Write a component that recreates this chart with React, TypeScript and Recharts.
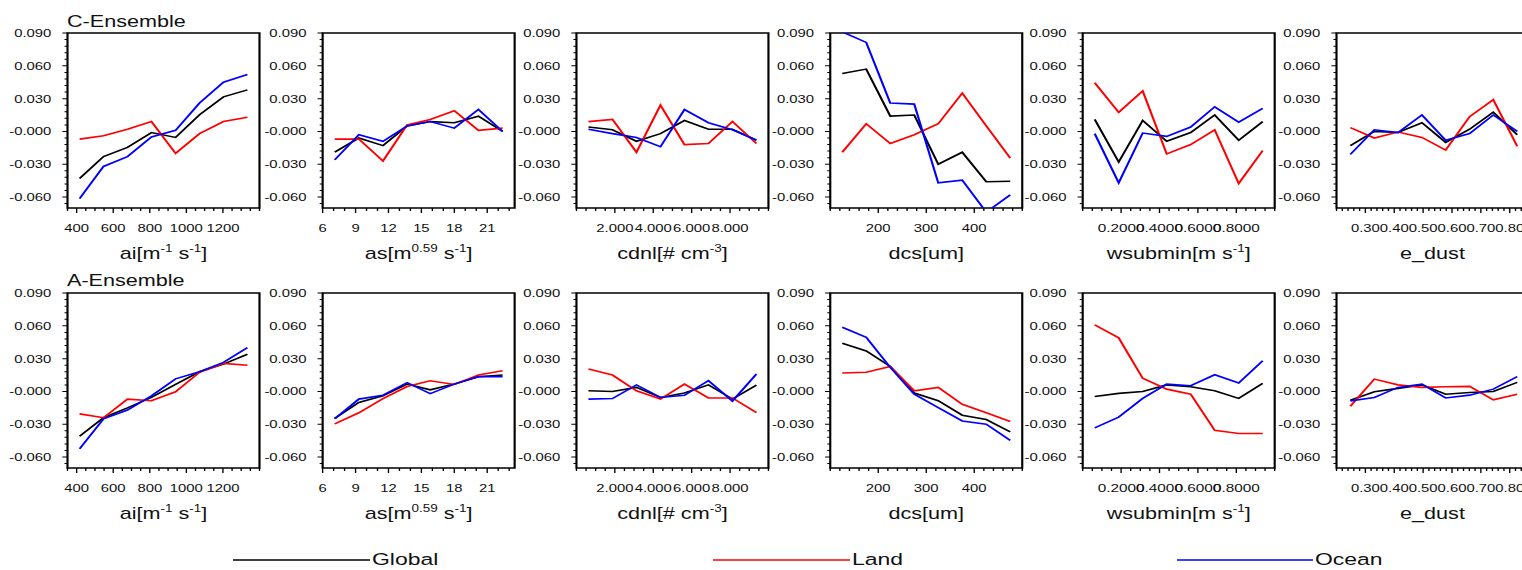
import React from 'react';
import { LineChart, Line, XAxis, YAxis, ReferenceArea, Label } from 'recharts';

// the original figure is stretched horizontally, so everything is drawn narrow and scaled
const S = 1.35;
const FONT = '"Liberation Sans", Arial, Helvetica, sans-serif';

// bin centres of each perturbed parameter
const aiX = [416, 547, 678, 809, 941, 1072, 1203, 1334];
const asX = [7.1, 9.3, 11.5, 13.7, 15.8, 18.0, 20.2, 22.4];
const cdnlX = [0.625, 1.875, 3.125, 4.375, 5.625, 6.875, 8.125, 9.375];
const dcsX = [125, 175, 225, 275, 325, 375, 425, 475];
const wsubX = [0.0625, 0.1875, 0.3125, 0.4375, 0.5625, 0.6875, 0.8125, 0.9375];
const edustX = [0.248, 0.331, 0.413, 0.496, 0.578, 0.661, 0.743, 0.826];

// C-Ensemble
const cAiGlobal = [-0.043, -0.023, -0.0146, -0.001, -0.0055, 0.0153, 0.0316, 0.038];
const cAiLand = [-0.007, -0.004, 0.002, 0.009, -0.02, -0.002, 0.009, 0.013];
const cAiOcean = [-0.0615, -0.032, -0.023, -0.005, 0.001, 0.026, 0.045, 0.052];
const cAsGlobal = [-0.019, -0.006, -0.013, 0.005, 0.009, 0.008, 0.014, 0.0];
const cAsLand = [-0.007, -0.007, -0.027, 0.006, 0.011, 0.019, 0.001, 0.003];
const cAsOcean = [-0.026, -0.003, -0.009, 0.005, 0.009, 0.003, 0.02, 0.0];
const cCdnlGlobal = [0.004, 0.0015, -0.009, -0.002, 0.01, 0.002, 0.002, -0.008];
const cCdnlLand = [0.009, 0.011, -0.019, 0.024, -0.012, -0.011, 0.009, -0.011];
const cCdnlOcean = [0.002, -0.002, -0.0055, -0.014, 0.02, 0.008, 0.0015, -0.008];
const cDcsGlobal = [0.053, 0.057, 0.014, 0.015, -0.03, -0.019, -0.046, -0.0455];
const cDcsLand = [-0.019, 0.007, -0.011, -0.003, 0.007, 0.035, 0.005, -0.0245];
const cDcsOcean = [0.091, 0.0814, 0.026, 0.025, -0.047, -0.0445, -0.0738, -0.058];
const cWsubGlobal = [0.011, -0.028, 0.01, -0.009, -0.001, 0.015, -0.008, 0.009];
const cWsubLand = [0.0445, 0.0175, 0.037, -0.0205, -0.012, 0.0015, -0.0475, -0.0175];
const cWsubOcean = [-0.002, -0.047, -0.0015, -0.0045, 0.004, 0.0225, 0.0085, 0.021];
const cDustGlobal = [-0.013, 0.0, -0.001, 0.008, -0.01, 0.002, 0.0175, -0.003];
const cDustLand = [0.0035, -0.006, -0.0005, -0.0055, -0.017, 0.0135, 0.029, -0.0135];
const cDustOcean = [-0.021, 0.0015, -0.001, 0.015, -0.008, -0.002, 0.015, 0.0];

// A-Ensemble
const aAiGlobal = [-0.041, -0.024, -0.015, -0.0055, 0.0065, 0.018, 0.025, 0.034];
const aAiLand = [-0.0205, -0.024, -0.007, -0.0085, -0.0003, 0.0175, 0.0256, 0.024];
const aAiOcean = [-0.0526, -0.025, -0.017, -0.004, 0.0115, 0.018, 0.0265, 0.04];
const aAsGlobal = [-0.0247, -0.01, -0.004, 0.0067, 0.0015, 0.0067, 0.0135, 0.015];
const aAsLand = [-0.0297, -0.0195, -0.0065, 0.0045, 0.0098, 0.0064, 0.015, 0.019];
const aAsOcean = [-0.025, -0.007, -0.0035, 0.008, -0.002, 0.0067, 0.0136, 0.0135];
const aCdnlGlobal = [0.0006, 0.0, 0.0037, -0.0055, -0.0015, 0.006, -0.007, 0.0058];
const aCdnlLand = [0.0206, 0.015, 0.0006, -0.007, 0.0067, -0.006, -0.006, -0.0194];
const aCdnlOcean = [-0.007, -0.0065, 0.006, -0.0055, -0.0035, 0.0098, -0.0088, 0.016];
const aDcsGlobal = [0.044, 0.037, 0.0228, -0.0015, -0.0085, -0.0217, -0.0257, -0.037];
const aDcsLand = [0.0169, 0.0175, 0.0228, 0.0006, 0.0037, -0.0117, -0.0194, -0.0275];
const aDcsOcean = [0.0587, 0.0495, 0.022, -0.0025, -0.0147, -0.027, -0.03, -0.0447];
const aWsubGlobal = [-0.0046, -0.0018, 0.0, 0.006, 0.0043, 0.0006, -0.0064, 0.0074];
const aWsubLand = [0.0609, 0.049, 0.0121, 0.0021, -0.0025, -0.0355, -0.0385, -0.0385];
const aWsubOcean = [-0.0333, -0.0235, -0.0064, 0.0067, 0.0052, 0.0153, 0.0077, 0.028];
const aDustGlobal = [-0.008, -0.0003, 0.0028, 0.006, -0.0025, -0.001, 0.0, 0.0083];
const aDustLand = [-0.0135, 0.0113, 0.006, 0.0037, 0.0043, 0.0046, -0.0077, -0.0025];
const aDustOcean = [-0.0086, -0.0055, 0.0037, 0.0067, -0.006, -0.0034, 0.0021, 0.0135];

const yMajor = [-0.06, -0.03, 0, 0.03, 0.06, 0.09];
const yLabels = ['-0.060', '-0.030', '-0.000', '0.030', '0.060', '0.090'];
const Y_DOMAIN: [number, number] = [-0.07, 0.09];

const rowNames = ['C-Ensemble', 'A-Ensemble'];
const seriesNames = ['Global', 'Land', 'Ocean'];
const seriesColors = ['#000000', '#ff0000', '#0000ff'];

type TitlePart = [string, boolean];

const PANELS = [
  { x: aiX, domain: [350, 1400], major: [400, 600, 800, 1000, 1200], labels: ['400', '600', '800', '1000', '1200'], step: 50, fs: 11,
    title: [['ai[m', false], ['-1', true], [' s', false], ['-1', true], [']', false]] as TitlePart[] },
  { x: asX, domain: [6, 23.5], major: [6, 9, 12, 15, 18, 21], labels: ['6', '9', '12', '15', '18', '21'], step: 1, fs: 11,
    title: [['as[m', false], ['0.59', true], [' s', false], ['-1', true], [']', false]] as TitlePart[] },
  { x: cdnlX, domain: [0, 10], major: [2, 4, 6, 8], labels: ['2.000', '4.000', '6.000', '8.000'], step: 0.5, fs: 11,
    title: [['cdnl[# cm', false], ['-3', true], [']', false]] as TitlePart[] },
  { x: dcsX, domain: [100, 500], major: [200, 300, 400], labels: ['200', '300', '400'], step: 20, fs: 11,
    title: [['dcs[um]', false]] as TitlePart[] },
  { x: wsubX, domain: [0, 1], major: [0.2, 0.4, 0.6, 0.8], labels: ['0.2000', '0.4000', '0.6000', '0.8000'], step: 0.05, fs: 11.35,
    title: [['wsubmin[m s', false], ['-1', true], [']', false]] as TitlePart[] },
  { x: edustX, domain: [0.2, 0.865], major: [0.3, 0.4, 0.5, 0.6, 0.7, 0.8], labels: ['0.30', '0.40', '0.50', '0.60', '0.70', '0.80'], step: 0.02, fs: 11,
    title: [['e_dust', false]] as TitlePart[] },
];

const SERIES = [
  [
    [cAiGlobal, cAiLand, cAiOcean],
    [cAsGlobal, cAsLand, cAsOcean],
    [cCdnlGlobal, cCdnlLand, cCdnlOcean],
    [cDcsGlobal, cDcsLand, cDcsOcean],
    [cWsubGlobal, cWsubLand, cWsubOcean],
    [cDustGlobal, cDustLand, cDustOcean],
  ],
  [
    [aAiGlobal, aAiLand, aAiOcean],
    [aAsGlobal, aAsLand, aAsOcean],
    [aCdnlGlobal, aCdnlLand, aCdnlOcean],
    [aDcsGlobal, aDcsLand, aDcsOcean],
    [aWsubGlobal, aWsubLand, aWsubOcean],
    [aDustGlobal, aDustLand, aDustOcean],
  ],
];

// layout, page pixels
const plotLeft = [68, 322, 576, 830, 1083, 1337];
const plotTop = [33.3, 292.7];
const PLOT_W = 192 / S;
const PLOT_H = 175;
const Y_AXIS_W = 50;
const CHART_W = Y_AXIS_W + PLOT_W + 6;
const M_TOP = 8;
const X_AXIS_H = 60;

const tickList = (lo: number, hi: number, step: number) => {
  const out: number[] = [];
  for (let v = lo; v <= hi + step / 100; v += step) out.push(+v.toFixed(6));
  return out;
};
const yTicks = tickList(-0.066, 0.09, 0.006);

const YTick = (props: any) => {
  const { x, y, payload } = props;
  const idx = yMajor.findIndex((m) => Math.abs(m - payload.value) < 1e-6);
  const len = idx >= 0 ? 3.8 : 2.2;
  return (
    <g>
      <line x1={x} x2={x - len} y1={y} y2={y} stroke="#000" strokeWidth={1} />
      {idx >= 0 && (
        <text x={x - 12} y={y} dy={3.9} textAnchor="end" fontSize={11} fill="#111" fontFamily={FONT}>
          {yLabels[idx]}
        </text>
      )}
    </g>
  );
};

const XTick = (props: any) => {
  const { x, y, payload, cfg } = props;
  const idx = cfg.major.findIndex((m: number) => Math.abs(m - payload.value) < cfg.step / 10);
  const len = idx >= 0 ? 5 : 3;
  return (
    <g>
      <line x1={x} x2={x} y1={y} y2={y + len} stroke="#000" strokeWidth={1} />
      {idx >= 0 && (
        <text x={x} y={y + 24.5} textAnchor="middle" fontSize={cfg.fs} fill="#111" fontFamily={FONT}>
          {cfg.labels[idx]}
        </text>
      )}
    </g>
  );
};

const AxisTitle = (parts: TitlePart[]) => (props: any) => {
  const vb = props.viewBox || {};
  const cx = vb.x + vb.width / 2;
  const base = vb.y + 51;
  return (
    <text x={cx} y={base} textAnchor="middle" fontSize={16} fill="#111" fontFamily={FONT}>
      {parts.map(([t, sup], i) => {
        const prevSup = i > 0 && parts[i - 1][1];
        const dy = sup ? -7 : prevSup ? 7 : 0;
        return (
          <tspan key={i} dy={dy} fontSize={sup ? 10 : 16}>
            {t}
          </tspan>
        );
      })}
    </text>
  );
};

const Panel = ({ row, col }: { row: number; col: number }) => {
  const cfg = PANELS[col];
  const [g, l, o] = SERIES[row][col];
  const data = cfg.x.map((xv, i) => ({ x: xv, global: g[i], land: l[i], ocean: o[i] }));
  const xTicks = tickList(cfg.domain[0], cfg.domain[1], cfg.step);
  const keys = ['global', 'land', 'ocean'];
  return (
    <div
      style={{
        position: 'absolute',
        left: plotLeft[col] / S - Y_AXIS_W,
        top: plotTop[row] - M_TOP,
      }}
    >
      <LineChart
        width={CHART_W}
        height={M_TOP + PLOT_H + X_AXIS_H}
        data={data}
        margin={{ top: M_TOP, right: CHART_W - Y_AXIS_W - PLOT_W, bottom: 0, left: 0 }}
      >
        <XAxis
          type="number"
          dataKey="x"
          domain={cfg.domain}
          allowDataOverflow
          ticks={xTicks}
          interval={0}
          tickSize={0}
          tickMargin={0}
          tickLine={false}
          axisLine={false}
          height={X_AXIS_H}
          tick={(p: any) => <XTick {...p} cfg={cfg} />}
        >
          <Label content={AxisTitle(cfg.title)} />
        </XAxis>
        <YAxis
          type="number"
          domain={Y_DOMAIN}
          allowDataOverflow
          ticks={yTicks}
          interval={0}
          tickSize={0}
          tickMargin={0}
          tickLine={false}
          axisLine={false}
          width={Y_AXIS_W}
          tick={(p: any) => <YTick {...p} />}
        />
        {keys.map((k, i) => (
          <Line
            key={k}
            type="linear"
            dataKey={k}
            name={seriesNames[i]}
            stroke={seriesColors[i]}
            strokeWidth={1.6}
            dot={false}
            isAnimationActive={false}
          />
        ))}
        <ReferenceArea
          x1={cfg.domain[0]}
          x2={cfg.domain[1]}
          y1={Y_DOMAIN[0]}
          y2={Y_DOMAIN[1]}
          fill="none"
          fillOpacity={0}
          stroke="#000"
          strokeWidth={1.6}
        />
      </LineChart>
    </div>
  );
};

// legend, page pixels
const legendLines = [
  [233, 370],
  [713, 850],
  [1177, 1313],
];

export default function App() {
  return (
    <div
      style={{
        position: 'absolute',
        left: 0,
        top: 0,
        width: 1522,
        height: 570,
        overflow: 'hidden',
        background: '#fff',
      }}
    >
      <div
        style={{
          position: 'relative',
          width: 1522 / S,
          height: 570,
          transform: `scaleX(${S})`,
          transformOrigin: 'left top',
          fontFamily: FONT,
        }}
      >
        {[0, 1].map((r) => PANELS.map((_, c) => <Panel key={`${r}-${c}`} row={r} col={c} />))}
        <svg width={1522 / S} height={570} style={{ position: 'absolute', left: 0, top: 0, pointerEvents: 'none' }}>
          {rowNames.map((n, r) => (
            <text key={n} x={67 / S} y={r === 0 ? 26.7 : 286.2} fontSize={16} fill="#111" fontFamily={FONT}>
              {n}
            </text>
          ))}
          {seriesNames.map((n, i) => (
            <g key={n}>
              <line
                x1={legendLines[i][0] / S}
                x2={legendLines[i][1] / S}
                y1={560}
                y2={560}
                stroke={seriesColors[i]}
                strokeWidth={1.6}
              />
              <text x={(legendLines[i][1] + 2) / S} y={565} fontSize={17} fill="#111" fontFamily={FONT}>
                {n}
              </text>
            </g>
          ))}
        </svg>
      </div>
    </div>
  );
}
